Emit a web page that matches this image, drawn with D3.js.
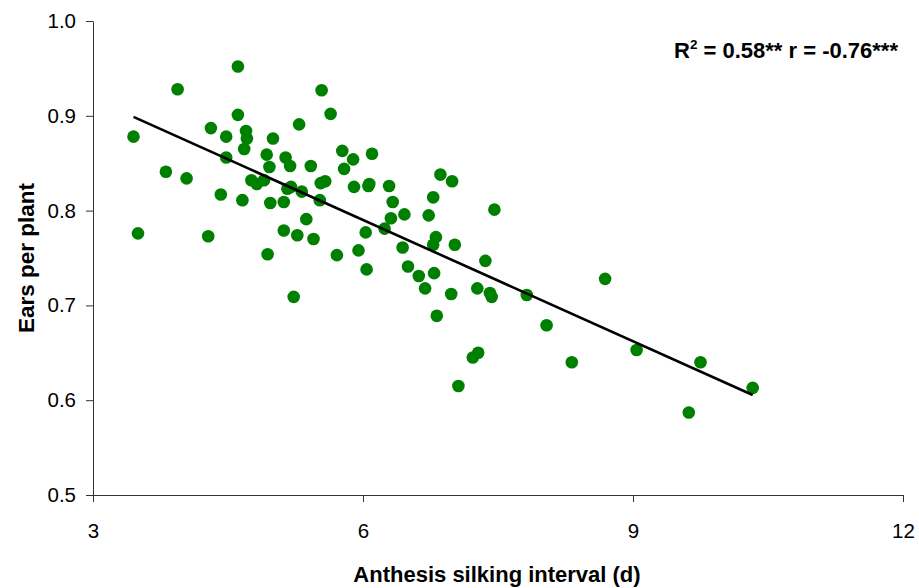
<!DOCTYPE html>
<html>
<head>
<meta charset="utf-8">
<script src="https://cdn.jsdelivr.net/npm/d3@7"></script>
<style>
  html, body { margin: 0; padding: 0; background: #fff; }
  svg { display: block; font-family: "Liberation Sans", Arial, sans-serif; }
</style>
</head>
<body>
<svg id="chart" width="919" height="588"></svg>
<script>
// Anthesis silking interval (days) for each plot
const asi = [
  3.45, 3.50, 3.81, 3.94, 4.04, 4.28, 4.31, 4.42, 4.48, 4.48,
  4.61, 4.61, 4.66, 4.68, 4.70, 4.71, 4.76, 4.82, 4.90, 4.93,
  4.94, 4.96, 4.97, 5.00, 5.12, 5.12, 5.14, 5.19, 5.16, 5.20,
  5.23, 5.27, 5.29, 5.32, 5.37, 5.42, 5.45, 5.52, 5.54, 5.53,
  5.58, 5.64, 5.71, 5.77, 5.79, 5.89, 5.90, 5.95, 6.03, 6.04,
  6.06, 6.07, 6.10, 6.24, 6.29, 6.31, 6.33, 6.44, 6.46, 6.50,
  6.62, 6.69, 6.73, 6.78, 6.78, 6.81, 6.79, 6.82, 6.86, 6.99,
  6.98, 7.02, 7.06, 7.22, 7.28, 7.27, 7.36, 7.41, 7.43, 7.46,
  7.82, 8.04, 8.32, 8.69, 9.04, 9.62, 9.75, 10.33
];

// Ears per plant for the same plots
const earsPerPlant = [
  0.878, 0.776, 0.841, 0.928, 0.834, 0.773, 0.887, 0.817, 0.878, 0.856,
  0.952, 0.901, 0.811, 0.865, 0.884, 0.876, 0.832, 0.828, 0.832, 0.859,
  0.754, 0.846, 0.808, 0.876, 0.779, 0.809, 0.856, 0.847, 0.823, 0.825,
  0.709, 0.774, 0.891, 0.820, 0.791, 0.847, 0.770, 0.811, 0.927, 0.829,
  0.831, 0.902, 0.753, 0.863, 0.844, 0.854, 0.825, 0.758, 0.777, 0.738,
  0.826, 0.828, 0.860, 0.781, 0.826, 0.792, 0.809, 0.761, 0.796, 0.741,
  0.731, 0.718, 0.795, 0.814, 0.764, 0.772, 0.734, 0.689, 0.838, 0.831,
  0.712, 0.764, 0.615, 0.645, 0.650, 0.718, 0.747, 0.713, 0.709, 0.801,
  0.711, 0.679, 0.640, 0.728, 0.653, 0.587, 0.640, 0.613
];

// Linear regression: ears = intercept + slope * ASI
const fitIntercept = 1.0461;
const fitSlope = -0.04266;

const xTicks = [3, 6, 9, 12];
const yTicks = [0.5, 0.6, 0.7, 0.8, 0.9, 1.0];

const svg = d3.select("#chart");

const x = d3.scaleLinear().domain([3, 12]).range([93, 903]);
const y = d3.scaleLinear().domain([0.5, 1.0]).range([495, 21]);

// Axes
const yAxis = svg.append("g")
  .attr("transform", `translate(${x(3)},0)`)
  .call(d3.axisLeft(y).tickValues(yTicks).tickFormat(d3.format(".1f"))
    .tickSize(7).tickSizeOuter(0).tickPadding(10));

const xAxis = svg.append("g")
  .attr("transform", `translate(0,${y(0.5)})`)
  .call(d3.axisBottom(x).tickValues(xTicks).tickFormat(d3.format("d"))
    .tickSize(7).tickSizeOuter(0).tickPadding(21));

[xAxis, yAxis].forEach(g => {
  g.select(".domain").attr("stroke", "#333").attr("stroke-width", 1);
  g.selectAll(".tick line").attr("stroke", "#333").attr("stroke-width", 1);
  g.selectAll(".tick text")
    .attr("fill", "#000")
    .style("font-family", "'Liberation Sans', Arial, sans-serif")
    .style("font-size", "20.5px");
});

// Data points
svg.append("g")
  .selectAll("circle")
  .data(asi.map((d, i) => [d, earsPerPlant[i]]))
  .join("circle")
  .attr("cx", d => x(d[0]))
  .attr("cy", d => y(d[1]))
  .attr("r", 6.3)
  .attr("fill", "#008000");

// Regression line across the observed ASI range
const xMin = d3.min(asi), xMax = d3.max(asi);
svg.append("line")
  .attr("x1", x(xMin)).attr("y1", y(fitIntercept + fitSlope * xMin))
  .attr("x2", x(xMax)).attr("y2", y(fitIntercept + fitSlope * xMax))
  .attr("stroke", "#000")
  .attr("stroke-width", 2.6);

// Axis titles
svg.append("text")
  .attr("x", 497).attr("y", 582)
  .attr("text-anchor", "middle")
  .style("font-weight", "bold")
  .style("font-size", "22px")
  .text("Anthesis silking interval (d)");

svg.append("text")
  .attr("transform", `translate(34,258) rotate(-90)`)
  .attr("text-anchor", "middle")
  .style("font-weight", "bold")
  .style("font-size", "22.5px")
  .text("Ears per plant");

// Fit statistics
const stats = svg.append("text")
  .attr("x", 898).attr("y", 58)
  .attr("text-anchor", "end")
  .style("font-weight", "bold")
  .style("font-size", "22px");
stats.append("tspan").text("R");
stats.append("tspan").attr("dy", -9).style("font-size", "13.5px").text("2");
stats.append("tspan").attr("dy", 9).text(" = 0.58** r = -0.76***");
</script>
</body>
</html>
